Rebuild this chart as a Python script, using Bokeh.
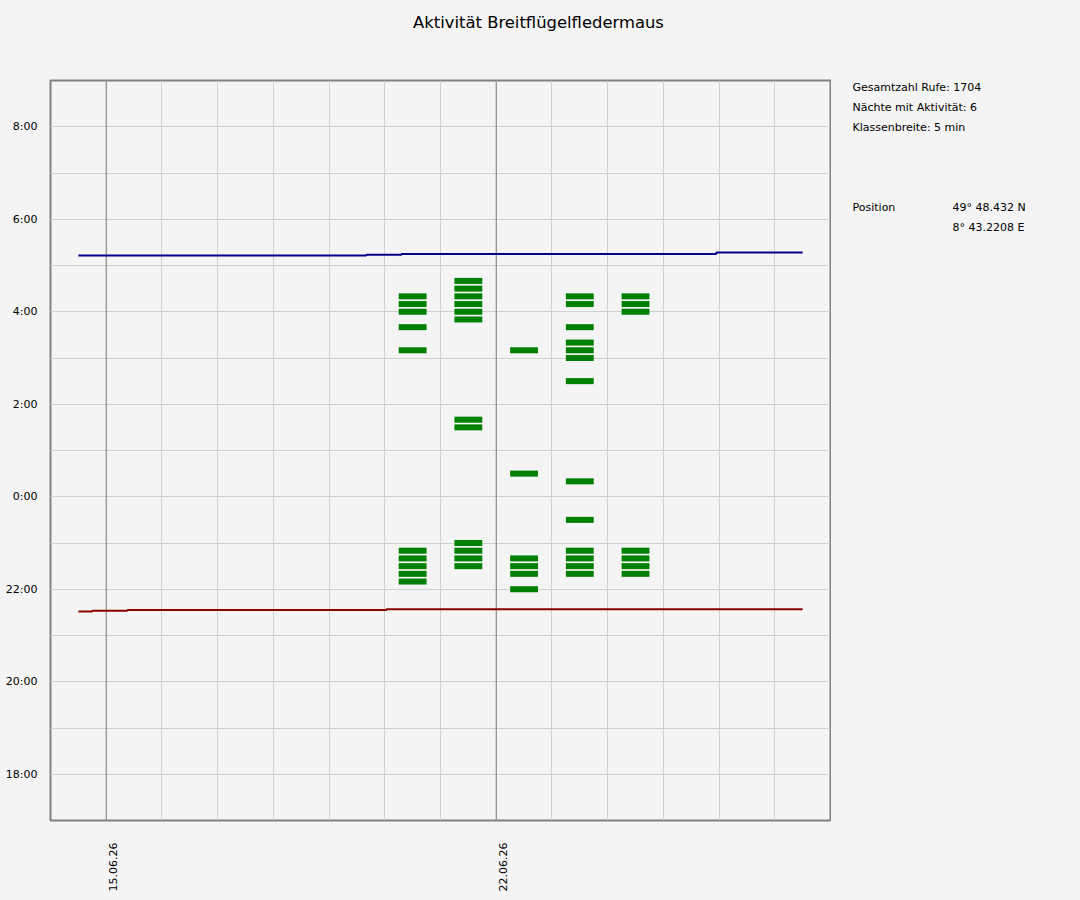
from bokeh.plotting import figure
from bokeh.models import Range1d, FixedTicker, Span
from bokeh.layouts import column, row
from bokeh.core.properties import value
from bokeh.embed import file_html
from bokeh.resources import INLINE
from math import pi

# ---------------- data ----------------
title_text = "Aktivität Breitflügelfledermaus"

# x axis: day of June 2026
x_start, x_end = 14, 28
grid_days = list(range(15, 28))
major_days = [15, 22]
major_day_labels = ["15.06.26", "22.06.26"]

# y axis: hours relative to midnight (negative = evening before)
y_start, y_end = -7, 9
y_tick_hours = [-6, -4, -2, 0, 2, 4, 6, 8]
y_tick_labels = ["18:00", "20:00", "22:00", "0:00", "2:00", "4:00", "6:00", "8:00"]

# activity bins (5-min classes) per night (date of evening)
night_days = [20, 21, 22, 23, 24]
bins_20 = ["22:10", "22:20", "22:30", "22:40", "22:50", "3:10", "3:40", "4:00", "4:10", "4:20"]
bins_21 = ["22:30", "22:40", "22:50", "23:00", "1:30", "1:40", "3:50", "4:00", "4:10", "4:20", "4:30", "4:40"]
bins_22 = ["22:00", "22:20", "22:30", "22:40", "0:30", "3:10"]
bins_23 = ["22:20", "22:30", "22:40", "22:50", "23:30", "0:20", "2:30", "3:00", "3:10", "3:20", "3:40", "4:10", "4:20"]
bins_24 = ["22:20", "22:30", "22:40", "22:50", "4:00", "4:10", "4:20"]
night_bins = [bins_20, bins_21, bins_22, bins_23, bins_24]

# sunset / sunrise step lines (segment boundaries in days, one time per segment)
sunset_breaks = [14.5, 14.75, 15.38, 20.03, 27.5]
sunset_times = ["21:31", "21:32", "21:33", "21:34"]
sunrise_breaks = [14.5, 19.67, 20.30, 25.95, 27.5]
sunrise_times = ["5:13", "5:14", "5:15", "5:17"]

info_lines = ["Gesamtzahl Rufe: 1704", "Nächte mit Aktivität: 6", "Klassenbreite: 5 min"]
position_label = "Position"
position_values = ["49° 48.432 N", "8° 43.2208 E"]

# ---------------- helpers ----------------
def to_hours(s):
    h, m = s.split(":")
    v = int(h) + int(m) / 60.0
    if v >= 12:
        v -= 24
    return v

def step_line(breaks, times):
    xs, ys = [], []
    for i, t in enumerate(times):
        y = to_hours(t)
        xs += [breaks[i], breaks[i + 1]]
        ys += [y, y]
    return xs, ys

BG = "#f4f4f4"
FONT = "DejaVu Sans"
TOTAL_W, TITLE_H = 1078, 44
FRAME_L, FRAME_T, FRAME_W, FRAME_H = 50, 80, 780, 740
BORDER_L = 90                      # generous left border, shifted back by a negative margin
SHIFT = BORDER_L - FRAME_L
MAIN_H = 854
MAIN_W = BORDER_L + FRAME_W + 1
SIDE_W = TOTAL_W - (FRAME_L + FRAME_W + 1)
BORDER_T = FRAME_T - TITLE_H
BORDER_B = MAIN_H - BORDER_T - FRAME_H

# ---------------- title ----------------
tf = figure(width=TOTAL_W, height=TITLE_H, output_backend="svg", toolbar_location=None,
            x_range=Range1d(0, TOTAL_W), y_range=Range1d(TITLE_H, 0),
            x_axis_type=None, y_axis_type=None, min_border=0)
tf.background_fill_color = BG
tf.border_fill_color = BG
tf.outline_line_color = None
tf.grid.visible = False
tf.text(x=[538], y=[22], text=[title_text], text_align="center", text_baseline="middle",
        text_font=value(FONT), text_font_size="16.4px", text_color="#000000")

# ---------------- main chart ----------------
p = figure(width=MAIN_W, height=MAIN_H, output_backend="svg", toolbar_location=None,
           x_range=Range1d(x_start, x_end), y_range=Range1d(y_start, y_end),
           min_border_left=BORDER_L, min_border_right=1, min_border_top=BORDER_T,
           min_border_bottom=BORDER_B, title=None, margin=(0, 0, 0, -SHIFT))
p.background_fill_color = BG
p.border_fill_color = BG
p.outline_line_color = "#808080"
p.outline_line_width = 2

p.xgrid.ticker = FixedTicker(ticks=grid_days)
p.ygrid.ticker = FixedTicker(ticks=list(range(y_start + 1, y_end)))
for g in (p.xgrid, p.ygrid):
    g.grid_line_color = "#d0d0d0"
    g.grid_line_width = 1

for d in major_days:
    p.add_layout(Span(location=d, dimension="height", line_color="#808080",
                      line_width=1, level="underlay"))

p.yaxis.ticker = FixedTicker(ticks=y_tick_hours)
p.yaxis.major_label_overrides = dict(zip(y_tick_hours, y_tick_labels))
label_offset = 0.12
xt = [d + label_offset for d in major_days]
p.xaxis.ticker = FixedTicker(ticks=xt)
p.xaxis.major_label_overrides = dict(zip(xt, major_day_labels))
p.xaxis.major_label_orientation = pi / 2
for ax in (p.xaxis, p.yaxis):
    ax.axis_line_color = None
    ax.major_tick_line_color = None
    ax.minor_tick_line_color = None
    ax.major_tick_out = 0
    ax.major_tick_in = 0
    ax.minor_tick_out = 0
    ax.minor_tick_in = 0
    ax.major_label_text_font = FONT
    ax.major_label_text_font_size = "11px"
    ax.major_label_text_color = "#000000"
p.yaxis.major_label_standoff = 13
p.xaxis.major_label_standoff = 22

bx, by = [], []
for d, bins in zip(night_days, night_bins):
    for t in bins:
        bx.append(d + 0.5)
        by.append(to_hours(t))
p.rect(x=bx, y=by, width=0.5, height=0.13, fill_color="#008000", line_color=None)

sx, sy = step_line(sunset_breaks, sunset_times)
p.line(sx, sy, line_color="#8b0000", line_width=2)
rx, ry = step_line(sunrise_breaks, sunrise_times)
p.line(rx, ry, line_color="#00008b", line_width=2)

# ---------------- side info panel (page-pixel coordinates) ----------------
x0 = FRAME_L + FRAME_W + 1
sf = figure(width=SIDE_W, height=MAIN_H, output_backend="svg", toolbar_location=None,
            x_range=Range1d(x0, x0 + SIDE_W), y_range=Range1d(FRAME_T + FRAME_H, FRAME_T),
            x_axis_type=None, y_axis_type=None, min_border_left=0, min_border_right=0,
            min_border_top=BORDER_T, min_border_bottom=BORDER_B)
sf.background_fill_color = BG
sf.border_fill_color = BG
sf.outline_line_color = None
sf.grid.visible = False
sf.text(x=[852] * len(info_lines), y=[87 + 20 * i for i in range(len(info_lines))],
        text=info_lines, text_align="left", text_baseline="middle",
        text_font=value(FONT), text_font_size="11px", text_color="#000000")
sf.text(x=[852], y=[207], text=[position_label], text_align="left",
        text_baseline="middle", text_font=value(FONT), text_font_size="11px",
        text_color="#000000")
sf.text(x=[952] * len(position_values), y=[207 + 20 * i for i in range(len(position_values))],
        text=position_values, text_align="left", text_baseline="middle",
        text_font=value(FONT), text_font_size="11px", text_color="#000000")

layout = column(tf, row(p, sf))

html = file_html(layout, INLINE, title="Aktivität Breitflügelfledermaus")
html = html.replace("</head>", "<style>html,body{background-color:%s;}</style></head>" % BG, 1)
open("out.html", "w").write(html)
